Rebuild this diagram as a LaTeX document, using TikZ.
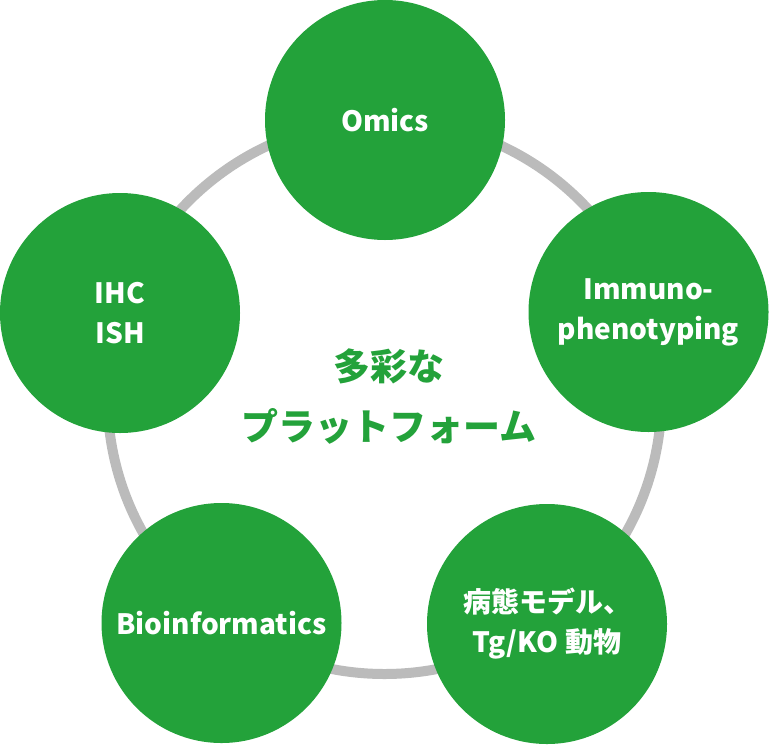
\documentclass[tikz,border=0pt]{standalone}
\usepackage{fontspec}
\setmainfont{Noto Sans CJK JP}
\usepackage{xcolor}
\definecolor{leaf}{HTML}{23A23A}
\definecolor{ringgray}{HTML}{BBBBBB}
\tikzset{%
    topic/.style={%
        circle, fill=leaf, draw=none, minimum size=240pt, inner sep=0pt,
        text=white, align=center,
        font=\fontsize{28}{40}\selectfont\bfseries
    },
    ring/.style={draw=ringgray, line width=10pt}
}

\begin{document}
\begin{tikzpicture}[x=1pt,y=-1pt]
    \useasboundingbox (0,0) rectangle (770,744);
    \coordinate (hub) at (384.5,397);
    \draw[ring] (hub) circle (277pt);
    \node[topic] (omics) at (385,120) {Omics};
    \node[topic] (immuno) at (648.5,312) {Immuno-\\phenotyping};
    \node[topic] (model) at (547,624) {病態モデル、\\Tg/KO 動物};
    \node[topic] (bioinfo) at (221.5,623) {Bioinformatics};
    \node[topic] (ihc) at (120,313) {IHC\\ISH};
    \node[text=leaf, align=center, font=\fontsize{37}{60}\selectfont\bfseries] (title) at (389,397) {多彩な\\プラットフォーム};
\end{tikzpicture}
\end{document}
